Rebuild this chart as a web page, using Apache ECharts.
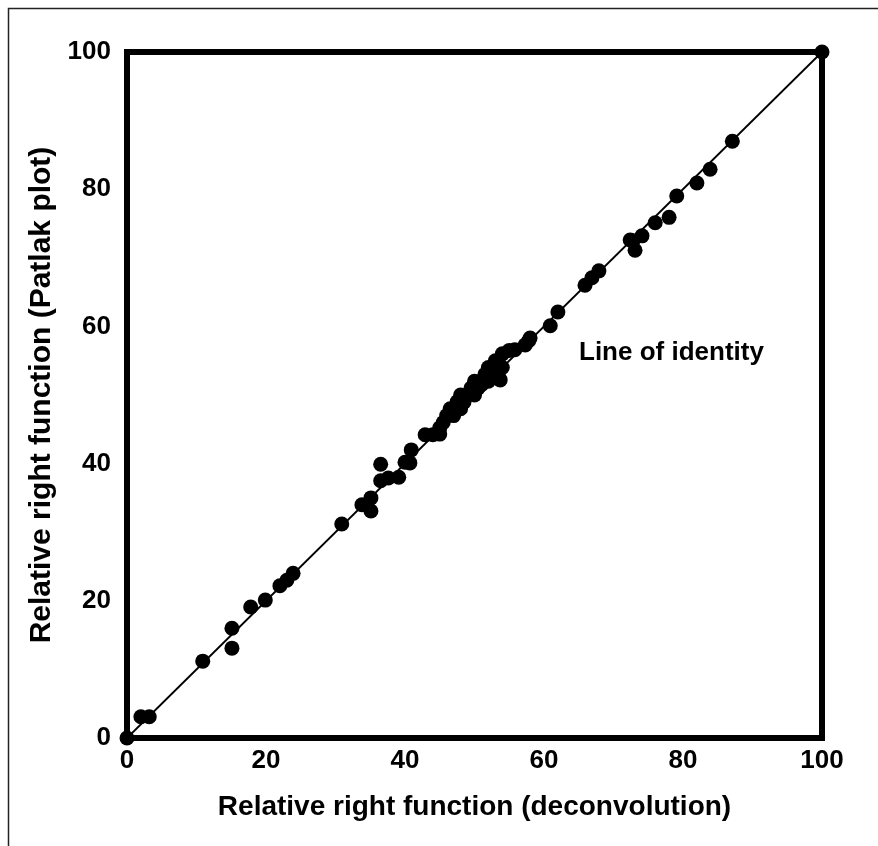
<!DOCTYPE html>
<html><head><meta charset="utf-8">
<script src="https://cdn.jsdelivr.net/npm/echarts@6/dist/echarts.min.js"></script>
<style>html,body{margin:0;padding:0;background:#fff}#c{width:878px;height:846px}</style>
</head><body><div id="c"></div>
<script>
const xTitle = 'Relative right function (deconvolution)';
const yTitle = 'Relative right function (Patlak plot)';
const annotation = 'Line of identity';
const tickValues = [0, 20, 40, 60, 80, 100];
const identityLine = [[0, 0], [100, 100]];
const deconv = [0, 2.0, 3.2, 10.9, 15.1, 15.1, 17.8, 19.9, 22.0, 23.0, 23.9, 30.9, 33.8, 35.1, 35.1,
  36.5, 36.5, 37.6, 39.1, 40.0, 40.9, 40.7, 42.9, 44.0, 45.0, 45.0,
  45.5, 46.0, 46.5, 47.0, 47.5, 48.0, 48.0, 48.5, 49.0, 49.5, 50.0, 50.0, 50.5, 51.0, 51.5, 52.0, 52.0,
  52.5, 53.0, 53.0, 53.5, 53.7, 54.0, 54.0, 55.0, 55.8, 57.3, 57.8, 58.0,
  60.9, 62.0, 65.9, 66.9, 67.9, 72.4, 73.1, 72.8, 74.1, 76.0, 78.0, 79.1, 82.0, 83.9, 87.1, 100];
const patlak = [0, 3.1, 3.1, 11.2, 16.0, 13.1, 19.1, 20.1, 22.2, 23.0, 24.0, 31.2, 34.0, 35.0, 33.1,
  39.9, 37.5, 37.9, 38.0, 40.2, 42.0, 40.1, 44.2, 44.2, 44.3, 45.2,
  46.0, 47.0, 48.0, 47.0, 49.0, 48.0, 50.0, 49.0, 50.0, 51.0, 50.0, 52.0, 51.0, 51.5, 53.0, 52.0, 54.0,
  53.0, 55.0, 53.0, 52.5, 52.2, 54.0, 56.0, 56.5, 56.6, 57.3, 57.9, 58.3,
  60.1, 62.1, 66.0, 67.1, 68.1, 72.6, 71.1, 72.5, 73.2, 75.1, 75.9, 79.0, 80.9, 82.9, 87.0, 100];
const points = deconv.map((x, i) => [x, patlak[i]]);

const font = '"Liberation Sans", Arial, sans-serif';
const chart = echarts.init(document.getElementById('c'));
chart.setOption({
  animation: false,
  graphic: [{
    type: 'rect', left: 6, top: 6, z: -10,
    shape: { x: 0, y: 0, width: 871, height: 860 },
    style: { fill: 'none', stroke: '#222', lineWidth: 1.5 }
  }, {
    type: 'text', left: 579, top: 340,
    style: { text: annotation, font: 'bold 26px ' + font, fill: '#000' }
  }],
  grid: { left: 127, right: 56, top: 52, bottom: 108, show: true, borderColor: '#000', borderWidth: 6, backgroundColor: 'transparent' },
  xAxis: {
    type: 'value', min: 0, max: 100, interval: 20,
    name: xTitle, nameLocation: 'middle', nameGap: 55,
    nameTextStyle: { fontFamily: font, fontWeight: 'bold', fontSize: 28, color: '#000' },
    axisLine: { show: false }, axisTick: { show: false }, splitLine: { show: false },
    axisLabel: { margin: 10, fontFamily: font, fontWeight: 'bold', fontSize: 26, color: '#000',
      formatter: v => tickValues.includes(v) ? String(v) : '' }
  },
  yAxis: {
    type: 'value', min: 0, max: 100, interval: 20,
    name: yTitle, nameLocation: 'middle', nameGap: 67,
    nameTextStyle: { fontFamily: font, fontWeight: 'bold', fontSize: 30, color: '#000' },
    axisLine: { show: false }, axisTick: { show: false }, splitLine: { show: false },
    axisLabel: { margin: 16, fontFamily: font, fontWeight: 'bold', fontSize: 26, color: '#000',
      formatter: v => tickValues.includes(v) ? String(v) : '' }
  },
  series: [{
    type: 'line', data: identityLine, symbol: 'none', clip: false,
    lineStyle: { color: '#000', width: 1.8 }, z: 2
  }, {
    type: 'scatter', data: points, symbol: 'circle', symbolSize: 15, clip: false,
    itemStyle: { color: '#000', opacity: 1 }, z: 3
  }]
});
</script></body></html>
